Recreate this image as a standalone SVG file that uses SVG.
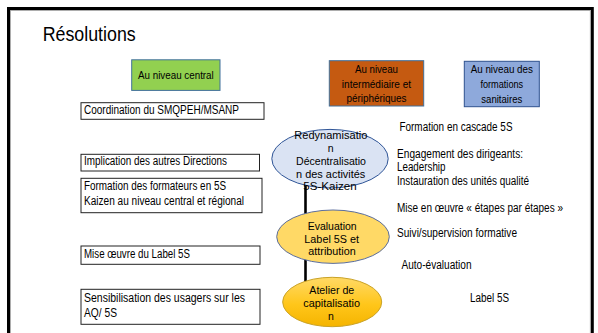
<svg xmlns="http://www.w3.org/2000/svg" width="598" height="333" viewBox="0 0 598 333">
  <defs>
    <linearGradient id="goldFill" x1="0" y1="0" x2="0" y2="1">
      <stop offset="0" stop-color="#FFD966"/>
      <stop offset="0.55" stop-color="#FFC61A"/>
      <stop offset="1" stop-color="#F5B400"/>
    </linearGradient>
  </defs>
  <style>
    text { font-family: "Liberation Sans Narrow", "Liberation Sans", Arial, sans-serif; fill: #000; }
    .wide { font-family: "Liberation Sans", Arial, sans-serif; }
    .title { font-size: 20.5px; }
    .head { font-size: 11.5px; }
    .box { fill: #fff; stroke: #222; stroke-width: 1; }
    .boxtxt { font-size: 12px; }
    .side { font-size: 12px; }
    .oval { font-size: 10.5px; }
    .mid { text-anchor: middle; }
    .link { stroke: #000; stroke-width: 2.6; fill: none; }
  </style>

  <rect width="598" height="333" fill="#fff"/>
  <!-- slide frame, open at the bottom -->
  <rect x="8.5" y="8.5" width="583.8" height="400" fill="none" stroke="#000" stroke-width="3"/>
  <rect x="10.5" y="10.5" width="579.8" height="400" fill="none" stroke="#9a9a9a" stroke-width="0.8"/>

  <text class="wide title" x="42.7" y="40.7" textLength="93" lengthAdjust="spacingAndGlyphs">Résolutions</text>

  <!-- column headers -->
  <g id="head-central">
    <rect x="131.7" y="59.8" width="88.3" height="30.6" fill="#92D050" stroke="#41719C" stroke-width="1"/>
    <text class="head mid" x="175.9" y="79.3" textLength="75.7" lengthAdjust="spacingAndGlyphs">Au niveau central</text>
  </g>
  <g id="head-intermediaire">
    <rect x="329.3" y="60.7" width="94.4" height="45.3" fill="#C55A11" stroke="#41719C" stroke-width="1"/>
    <text class="head mid" x="376.5" y="73.3" textLength="43" lengthAdjust="spacingAndGlyphs">Au niveau</text>
    <text class="head mid" x="376.5" y="87.9" textLength="69.3" lengthAdjust="spacingAndGlyphs">intermédiaire et</text>
    <text class="head mid" x="376.5" y="102.3" textLength="60" lengthAdjust="spacingAndGlyphs">périphériques</text>
  </g>
  <g id="head-formations">
    <rect x="464.3" y="61.3" width="75" height="45.4" fill="#8EA9DB" stroke="#2F528F" stroke-width="1"/>
    <text class="head mid" x="501.8" y="73.3" textLength="62.3" lengthAdjust="spacingAndGlyphs">Au niveau des</text>
    <text class="head mid" x="501.8" y="87.9" textLength="42.7" lengthAdjust="spacingAndGlyphs">formations</text>
    <text class="head mid" x="501.8" y="102.6" textLength="41" lengthAdjust="spacingAndGlyphs">sanitaires</text>
  </g>

  <!-- central-level actions -->
  <g id="central-coordination">
    <rect class="box" x="81" y="102.7" width="183" height="16.6"/>
    <text class="boxtxt" x="84" y="113.5" textLength="155" lengthAdjust="spacingAndGlyphs">Coordination du SMQPEH/MSANP</text>
  </g>
  <g id="central-implication">
    <rect class="box" x="81" y="154.3" width="178.5" height="16.7"/>
    <text class="boxtxt" x="84" y="165.2" textLength="143" lengthAdjust="spacingAndGlyphs">Implication des autres Directions</text>
  </g>
  <g id="central-formation">
    <rect class="box" x="81" y="178.3" width="181" height="34.4"/>
    <text class="boxtxt" x="84" y="190.2" textLength="142" lengthAdjust="spacingAndGlyphs">Formation des formateurs en 5S</text>
    <text class="boxtxt" x="84" y="205.2" textLength="160" lengthAdjust="spacingAndGlyphs">Kaizen au niveau central et régional</text>
  </g>
  <g id="central-label">
    <rect class="box" x="81" y="246" width="179" height="18.3"/>
    <text class="boxtxt" x="84" y="257.5" textLength="106" lengthAdjust="spacingAndGlyphs">Mise œuvre du Label 5S</text>
  </g>
  <g id="central-sensibilisation">
    <rect class="box" x="81" y="289.3" width="179" height="35"/>
    <text class="boxtxt" x="84" y="301.9" textLength="161" lengthAdjust="spacingAndGlyphs">Sensibilisation des usagers sur les</text>
    <text class="boxtxt" x="84" y="316.9" textLength="33" lengthAdjust="spacingAndGlyphs">AQ/ 5S</text>
  </g>

  <!-- vertical link through the three stages -->
  <g id="connectors">
    <line class="link" x1="305.5" y1="180" x2="305.5" y2="284"/>
  </g>

  <g id="stage-redynamisation">
    <ellipse cx="330" cy="158.7" rx="58.2" ry="29.3" fill="#DAE3F3" stroke="#2F5597" stroke-width="1"/>
    <text class="wide oval mid" x="330.8" y="139.3" textLength="73" lengthAdjust="spacingAndGlyphs">Redynamisatio</text>
    <text class="wide oval mid" x="330.7" y="151.5">n</text>
    <text class="wide oval mid" x="331" y="165" textLength="70" lengthAdjust="spacingAndGlyphs">Décentralisatio</text>
    <text class="wide oval mid" x="330.7" y="177.7" textLength="69.3" lengthAdjust="spacingAndGlyphs">n des activités</text>
    <text class="wide oval mid" x="330" y="190" textLength="53.3" lengthAdjust="spacingAndGlyphs">5S-Kaizen</text>
  </g>
  <g id="stage-evaluation">
    <ellipse cx="333" cy="236.7" rx="56.3" ry="26.7" fill="#FFD966" stroke="#5B6E9E" stroke-width="1"/>
    <text class="wide oval mid" x="332.2" y="230" textLength="49" lengthAdjust="spacingAndGlyphs">Evaluation</text>
    <text class="wide oval mid" x="331.7" y="242.7" textLength="54.7" lengthAdjust="spacingAndGlyphs">Label 5S et</text>
    <text class="wide oval mid" x="332" y="255" textLength="47.3" lengthAdjust="spacingAndGlyphs">attribution</text>
  </g>
  <g id="stage-atelier">
    <ellipse cx="332.2" cy="302" rx="49.5" ry="24.7" fill="url(#goldFill)" stroke="#C9A227" stroke-width="1"/>
    <text class="wide oval mid" x="331.8" y="294.3" textLength="45" lengthAdjust="spacingAndGlyphs">Atelier de</text>
    <text class="wide oval mid" x="331.7" y="306.7" textLength="56.7" lengthAdjust="spacingAndGlyphs">capitalisatio</text>
    <text class="wide oval mid" x="331" y="320">n</text>
  </g>

  <!-- actions at intermediate and facility level -->
  <g id="side-actions">
    <text class="side" x="399.5" y="131" textLength="113" lengthAdjust="spacingAndGlyphs">Formation en cascade 5S</text>
    <text class="side" x="397" y="158" textLength="126" lengthAdjust="spacingAndGlyphs">Engagement  des dirigeants:</text>
    <text class="side" x="397" y="171" textLength="48.5" lengthAdjust="spacingAndGlyphs">Leadership</text>
    <text class="side" x="397" y="185" textLength="132" lengthAdjust="spacingAndGlyphs">Instauration des unités qualité</text>
    <text class="side" x="397" y="211.5" textLength="166" lengthAdjust="spacingAndGlyphs">Mise en œuvre « étapes par étapes »</text>
    <text class="side" x="397" y="237.3" textLength="120" lengthAdjust="spacingAndGlyphs">Suivi/supervision formative</text>
    <text class="side" x="401.5" y="269" textLength="70" lengthAdjust="spacingAndGlyphs">Auto-évaluation</text>
    <text class="side" x="470" y="302" textLength="39" lengthAdjust="spacingAndGlyphs">Label 5S</text>
  </g>
</svg>
